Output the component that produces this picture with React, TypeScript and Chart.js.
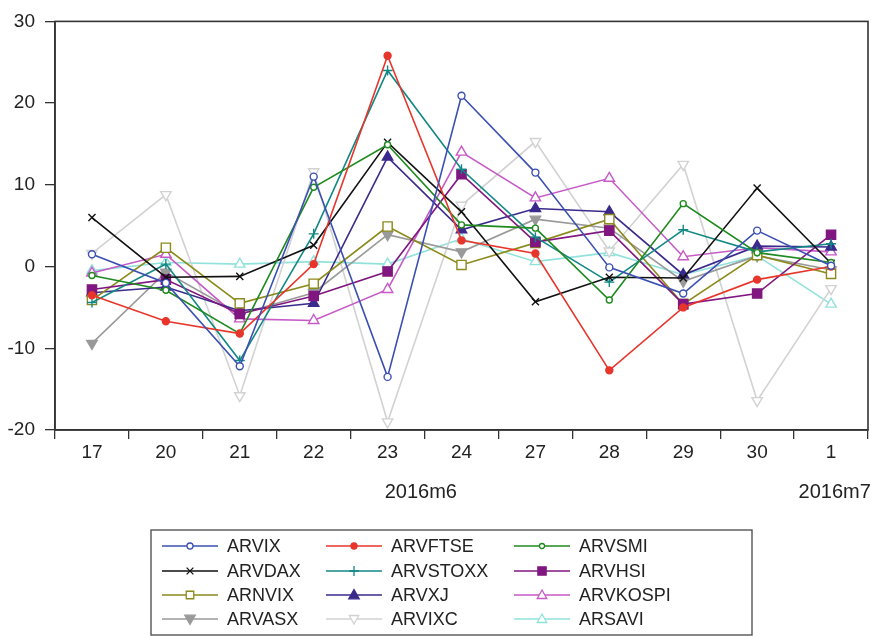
import React, { useEffect, useRef } from 'react';
import { Chart, registerables } from 'chart.js';

Chart.register(...registerables);

const categories = ['17', '20', '21', '22', '23', '24', '27', '28', '29', '30', '1'];
const monthLabels = [
  { text: '2016m6', at: 4.45 },
  { text: '2016m7', at: 10.05 },
];
const yTicks = [-20, -10, 0, 10, 20, 30];

const seriesNames = ['ARVIX', 'ARVFTSE', 'ARVSMI', 'ARVDAX', 'ARVSTOXX', 'ARVHSI', 'ARNVIX', 'ARVXJ', 'ARVKOSPI', 'ARVASX', 'ARVIXC', 'ARSAVI'];

const arvix = [1.5, -2.0, -12.2, 11.0, -13.5, 20.9, 11.5, -0.1, -3.3, 4.4, 0.1];
const arvftse = [-3.5, -6.7, -8.2, 0.3, 25.8, 3.2, 1.6, -12.7, -5.0, -1.6, 0.0];
const arvsmi = [-1.1, -2.9, -8.2, 9.7, 14.9, 5.1, 4.7, -4.1, 7.7, 1.7, 0.5];
const arvdax = [6.0, -1.3, -1.2, 2.6, 15.2, 6.7, -4.3, -1.3, -1.4, 9.6, 0.4];
const arvstoxx = [-4.4, 0.3, -11.5, 4.0, 24.0, 11.9, 3.6, -1.9, 4.5, 1.8, 2.8];
const arvhsi = [-2.8, -1.6, -5.8, -3.6, -0.6, 11.3, 3.0, 4.4, -4.6, -3.3, 3.9];
const arnvix = [-4.1, 2.3, -4.5, -2.1, 4.9, 0.2, 2.9, 5.8, -4.6, 1.4, -0.9];
const arvxj = [-3.2, -2.5, -5.4, -4.5, 13.4, 4.5, 7.1, 6.7, -1.0, 2.5, 2.4];
const arvkospi = [-0.8, 1.5, -6.4, -6.6, -2.8, 14.0, 8.4, 10.8, 1.2, 2.3, 1.8];
const arvasx = [-9.4, -0.7, -5.8, -3.2, 3.9, 1.8, 5.8, 4.7, -1.8, 1.3, -0.4];
const arvixc = [1.6, 8.8, -15.8, 11.6, -19.0, 7.5, 15.3, 1.9, 12.5, -16.4, -2.7];
const arsavi = [-0.5, 0.5, 0.3, 0.6, 0.3, 3.4, 0.6, 1.7, -1.0, 1.3, -4.6];

const seriesValues = [arvix, arvftse, arvsmi, arvdax, arvstoxx, arvhsi, arnvix, arvxj, arvkospi, arvasx, arvixc, arsavi];

type Style = { color: string; shape: string; filled: boolean; r: number; rot: number; lr: number };
const styles: Style[] = [
  { color: '#3a4fb2', shape: 'circle', filled: false, r: 3.5, rot: 0, lr: 3 },
  { color: '#e8352b', shape: 'circle', filled: true, r: 3.5, rot: 0, lr: 3 },
  { color: '#1f8a1f', shape: 'circle', filled: false, r: 3, rot: 0, lr: 2.5 },
  { color: '#111111', shape: 'crossRot', filled: false, r: 5, rot: 0, lr: 4.5 },
  { color: '#128885', shape: 'cross', filled: false, r: 5, rot: 0, lr: 5 },
  { color: '#80167f', shape: 'rect', filled: true, r: 6.5, rot: 0, lr: 5.5 },
  { color: '#8c8a1c', shape: 'rect', filled: false, r: 6.5, rot: 0, lr: 5 },
  { color: '#3b2a8c', shape: 'triangle', filled: true, r: 6, rot: 0, lr: 5.5 },
  { color: '#c65ac6', shape: 'triangle', filled: false, r: 6, rot: 0, lr: 5 },
  { color: '#9a9a9a', shape: 'triangle', filled: true, r: 6, rot: 180, lr: 5.5 },
  { color: '#d2d2d2', shape: 'triangle', filled: false, r: 6, rot: 180, lr: 5 },
  { color: '#92e2dc', shape: 'triangle', filled: false, r: 6, rot: 0, lr: 5 },
];

const FONT = 'Arial, "Liberation Sans", sans-serif';

function drawMarker(ctx: CanvasRenderingContext2D, s: Style, x: number, y: number, r: number) {
  ctx.save();
  ctx.translate(x, y);
  ctx.rotate((s.rot * Math.PI) / 180);
  ctx.strokeStyle = s.color;
  ctx.fillStyle = s.filled ? s.color : '#ffffff';
  ctx.lineWidth = 1.3;
  ctx.beginPath();
  if (s.shape === 'circle') {
    ctx.arc(0, 0, r, 0, Math.PI * 2);
    ctx.fill();
    ctx.stroke();
  } else if (s.shape === 'rect') {
    const h = r * 0.75;
    ctx.rect(-h, -h, 2 * h, 2 * h);
    ctx.fill();
    ctx.stroke();
  } else if (s.shape === 'triangle') {
    const h = r;
    ctx.moveTo(0, -h);
    ctx.lineTo(h * 0.95, h * 0.7);
    ctx.lineTo(-h * 0.95, h * 0.7);
    ctx.closePath();
    ctx.fill();
    ctx.stroke();
  } else if (s.shape === 'cross') {
    ctx.moveTo(0, -r);
    ctx.lineTo(0, r);
    ctx.moveTo(-r, 0);
    ctx.lineTo(r, 0);
    ctx.stroke();
  } else if (s.shape === 'crossRot') {
    const h = r * 0.75;
    ctx.moveTo(-h, -h);
    ctx.lineTo(h, h);
    ctx.moveTo(h, -h);
    ctx.lineTo(-h, h);
    ctx.stroke();
  }
  ctx.restore();
}

const framePlugin = {
  id: 'frameAndLegend',
  afterDraw(chart: any) {
    const ctx: CanvasRenderingContext2D = chart.ctx;
    const a = chart.chartArea;
    ctx.save();
    ctx.strokeStyle = '#333333';
    ctx.lineWidth = 1.6;
    ctx.strokeRect(a.left, a.top, a.right - a.left, a.bottom - a.top);

    // month labels
    const xs = chart.scales.x;
    const step = xs.getPixelForValue(1) - xs.getPixelForValue(0);
    ctx.fillStyle = '#222222';
    ctx.font = `20px ${FONT}`;
    ctx.textAlign = 'center';
    ctx.textBaseline = 'middle';
    monthLabels.forEach((m) => {
      const i = Math.floor(m.at);
      const x = xs.getPixelForValue(i) + step * (m.at - i);
      ctx.fillText(m.text, x, 492);
    });

    // legend
    const bx = 151, by = 530, bw = 601, bh = 105;
    ctx.strokeStyle = '#555555';
    ctx.lineWidth = 1.4;
    ctx.strokeRect(bx, by, bw, bh);
    const colX = [162, 326, 514];
    const rowY = [546, 571, 595, 619];
    ctx.font = `18px ${FONT}`;
    ctx.textAlign = 'left';
    ctx.textBaseline = 'middle';
    seriesNames.forEach((name, i) => {
      const s = styles[i];
      const x = colX[i % 3];
      const y = rowY[Math.floor(i / 3)];
      ctx.strokeStyle = s.color;
      ctx.lineWidth = 1.5;
      ctx.beginPath();
      ctx.moveTo(x, y);
      ctx.lineTo(x + 56, y);
      ctx.stroke();
      drawMarker(ctx, s, x + 28, y, s.lr);
      ctx.fillStyle = '#222222';
      ctx.fillText(name, x + 65, y + 1);
    });
    ctx.restore();
  },
};

export default function App() {
  const ref = useRef<HTMLCanvasElement>(null);
  useEffect(() => {
    if (!ref.current) return;
    const chart = new Chart(ref.current, {
      type: 'line',
      data: {
        labels: categories,
        datasets: seriesNames.map((name, i) => {
          const s = styles[i];
          return {
            label: name,
            data: seriesValues[i],
            borderColor: s.color,
            backgroundColor: s.color,
            borderWidth: 1.6,
            pointStyle: s.shape as any,
            pointRotation: s.rot,
            pointRadius: s.r,
            pointBorderWidth: 1.4,
            pointBackgroundColor: s.filled ? s.color : '#ffffff',
            pointBorderColor: s.color,
            tension: 0,
            fill: false,
            clip: false as any,
          };
        }),
      },
      options: {
        responsive: false,
        animation: false,
        devicePixelRatio: 1,
        layout: { padding: { top: 14, right: 12, left: 0, bottom: 0 } },
        plugins: { legend: { display: false }, tooltip: { enabled: false } },
        scales: {
          x: {
            type: 'category',
            offset: true,
            grid: { display: true, offset: true, drawOnChartArea: false, drawTicks: true, tickLength: 9, color: '#333333', lineWidth: 1.3 },
            border: { display: true, color: '#333333', width: 1.6 },
            ticks: { color: '#222222', font: { family: FONT, size: 19 }, padding: 2, maxRotation: 0, autoSkip: false },
            afterFit: (scale: any) => { scale.height = 206; },
          },
          y: {
            type: 'linear',
            min: -20,
            max: 30,
            afterBuildTicks: (scale: any) => { scale.ticks = yTicks.map((v) => ({ value: v })); },
            grid: { display: true, drawOnChartArea: false, drawTicks: true, tickLength: 10, color: '#333333', lineWidth: 1.3 },
            border: { display: true, color: '#333333', width: 1.6 },
            ticks: { color: '#222222', font: { family: FONT, size: 19 }, padding: 10 },
            afterFit: (scale: any) => { scale.width = 55; },
          },
        },
      },
      plugins: [framePlugin],
    });
    return () => chart.destroy();
  }, []);
  return (
    <div style={{ position: 'absolute', left: 0, top: 0, width: 880, height: 636, background: '#ffffff' }}>
      <canvas ref={ref} width={880} height={636} style={{ width: 880, height: 636 }} />
    </div>
  );
}
